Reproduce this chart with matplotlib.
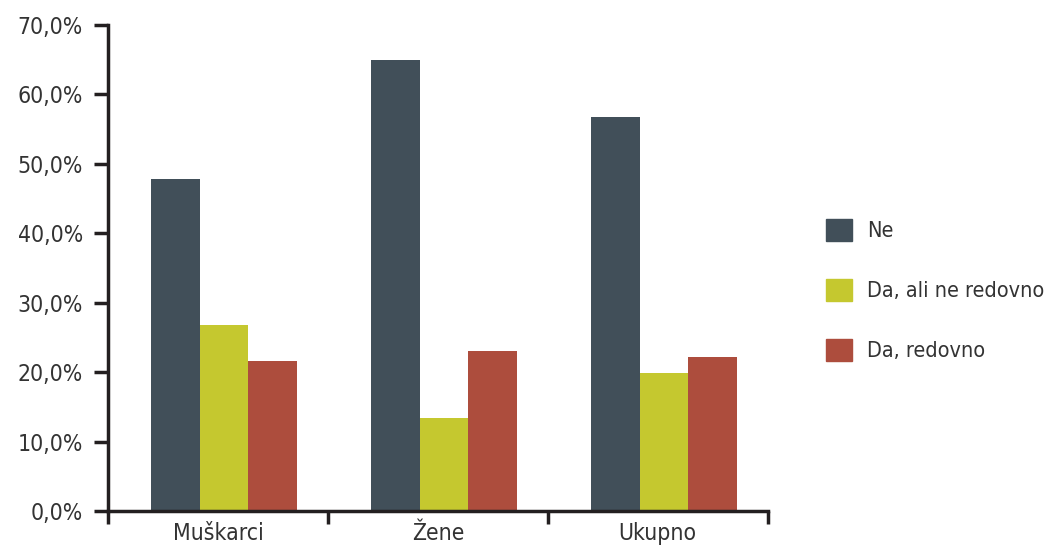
import matplotlib
matplotlib.use("Agg")
import matplotlib.pyplot as plt
import numpy as np
from matplotlib.patches import Patch

categories = ["Muškarci", "Žene", "Ukupno"]
series_names = ["Ne", "Da, ali ne redovno", "Da, redovno"]
ne = [47.8, 65.0, 56.8]
da_ne_redovno = [26.8, 13.4, 19.9]
da_redovno = [21.6, 23.1, 22.2]
yticks = [0, 10, 20, 30, 40, 50, 60, 70]
colors = ["#414F59", "#C5C82F", "#AD4D3D"]

plt.rcParams['font.family'] = ['DejaVu Sans']
plt.rcParams['font.stretch'] = 'condensed'

fig = plt.figure(figsize=(10.44, 5.49), dpi=100)
ax = fig.add_axes([0.1034, 0.0692, 0.632, 0.8853])

x = np.arange(len(categories))
w = 0.222
data = [ne, da_ne_redovno, da_redovno]
for i, (vals, c, name) in enumerate(zip(data, colors, series_names)):
    ax.bar(x + (i - 1) * w + 0.028, vals, width=w, color=c, label=name, linewidth=0)

ax.set_xlim(-0.5, 2.5)
ax.set_ylim(0, 70)
ax.set_yticks(yticks)
ax.set_yticklabels([f"{v:.1f}%".replace(".", ",") for v in yticks], fontsize=16.5, color="#333333")
ax.set_xticks([-0.5, 0.5, 1.5, 2.5])
ax.set_xticklabels([])
ax.set_xticks(x, minor=True)
ax.set_xticklabels(categories, minor=True, fontsize=16.5, color="#333333")
ax.tick_params(axis='x', which='minor', length=0, pad=8)
ax.tick_params(axis='x', which='major', direction='out', length=9, width=2.5, color="#231F20")
ax.tick_params(axis='y', direction='out', length=10, width=2.5, color="#231F20", pad=8)

for s in ["top", "right"]:
    ax.spines[s].set_visible(False)
for s in ["left", "bottom"]:
    ax.spines[s].set_linewidth(2.5)
    ax.spines[s].set_color("#231F20")

handles = [Patch(color=c, label=n) for c, n in zip(colors, series_names)]
fig.legend(handles=handles, loc="center left", bbox_to_anchor=(0.791, 0.472),
           frameon=False, fontsize=15.5, labelcolor="#333333", borderpad=0, borderaxespad=0,
           handlelength=1.2, handleheight=1.2, labelspacing=1.75, handletextpad=0.7)

fig.savefig("out.png", dpi=100)
